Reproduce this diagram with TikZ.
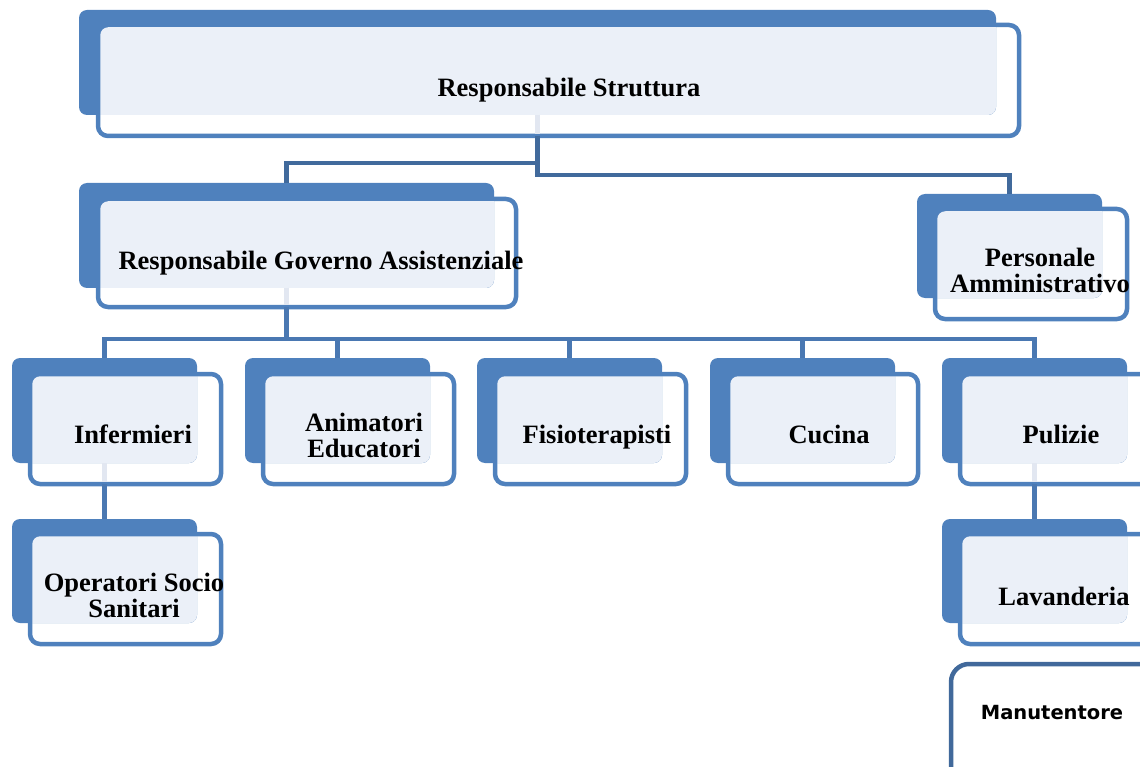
\documentclass[tikz,border=0pt]{standalone}
\usepackage{fontspec}
\setmainfont{Liberation Serif}
\newfontfamily\mansans{DejaVu Sans}
\usetikzlibrary{fit}
\definecolor{boxblue}{HTML}{4F81BD}
\definecolor{lightfill}{HTML}{EBF0F8}
\definecolor{conndark}{HTML}{416A9C}
\definecolor{connblue}{HTML}{4A78B2}
\definecolor{stubcol}{HTML}{E2E7F1}
\definecolor{manborder}{HTML}{41699B}
\tikzset{
  frontbox/.style={draw=boxblue, fill=white, line width=4.5pt, rounded corners=10pt, inner sep=0pt, outer sep=0pt},
  backbox/.style={fill=boxblue, rounded corners=8pt, inner sep=0pt, outer sep=0pt},
  manbox/.style={draw=manborder, fill=white, line width=4.5pt, rounded corners=18pt, inner sep=0pt, outer sep=0pt},
  lbl/.style={font=\bfseries\fontsize{26.5}{26}\selectfont, align=center, inner sep=0pt},
  manlbl/.style={font=\mansans\bfseries\fontsize{19.5}{22}\selectfont, inner sep=0pt},
  conn/.style={draw=connblue, line width=4.5pt},
  connd/.style={draw=conndark, line width=4.5pt},
  stub/.style={draw=stubcol, line width=4.5pt}
}
\newcommand\orgunit[9]{%
  \node[frontbox, fit={(#6,#7)(#8,#9)}] (#1F) {};
  \node[backbox, fit={(#2,#3)(#4,#5)}] (#1B) {};
  \begin{scope}
    \clip[rounded corners=8pt] (#1B.south west) rectangle (#1B.north east);
    \fill[lightfill, rounded corners=8pt] ([xshift=2.25pt,yshift=-2.25pt]#1F.north west) rectangle ([xshift=-2.25pt,yshift=2.25pt]#1F.south east);
  \end{scope}
}
\begin{document}
\begin{tikzpicture}[x=1pt, y=-1pt]
\useasboundingbox (0,0) rectangle (1140,767);
\clip (0,0) rectangle (1140,767);
% boxes
\orgunit{rs}{79}{10}{996}{115}{98}{25}{1019}{136}
\orgunit{rga}{79}{183}{494}{288}{98}{199}{516}{307}
\orgunit{pa}{917}{194}{1102}{298}{935}{209}{1127}{319}
\orgunit{inf}{12}{358}{197}{463}{30}{374}{221}{484}
\orgunit{ani}{245}{358}{430}{463}{263}{374}{454}{484}
\orgunit{fis}{477}{358}{662}{463}{495}{374}{686}{484}
\orgunit{cuc}{710}{358}{895}{463}{728}{374}{918}{484}
\orgunit{pul}{942}{358}{1127}{463}{960}{374}{1151}{484}
\orgunit{oss}{12}{519}{197}{623}{30}{534}{221}{644}
\orgunit{lav}{942}{519}{1127}{623}{960}{534}{1151}{644}
\node[manbox, fit={(951,664)(1170,800)}] (manF) {};
% stubs inside front boxes
\foreach \n in {rs,rga,inf,pul}{
  \draw[stub] (\n B.south) -- ([yshift=2.25pt]\n B.south |- \n F.south);
}
% connectors
\draw[connd] (rsB.south |- rsF.south) -- ++(0,27) -| (rgaB.north);
\draw[connd] (rsB.south |- rsF.south) -- ++(0,39) -| (paB.north);
\foreach \c in {inf,ani,fis,cuc,pul}{
  \draw[conn] (rgaB.south |- rgaF.south) -- ++(0,32) -| (\c B.north);
}
\draw[conn] (infB.south |- infF.south) -- (ossB.north);
\draw[conn] (pulB.south |- pulF.south) -- (lavB.north);
% labels
\node[lbl] (rsT) at (569,90) {Responsabile Struttura};
\node[lbl] (rgaT) at (321,263) {Responsabile Governo Assistenziale};
\node[lbl] (paT) at (1040,270) {Personale\\Amministrativo};
\node[lbl] (infT) at (133,434) {Infermieri};
\node[lbl] (aniT) at (364,435) {Animatori\\Educatori};
\node[lbl] (fisT) at (597,437) {Fisioterapisti};
\node[lbl] (cucT) at (829,434) {Cucina};
\node[lbl] (pulT) at (1061,434) {Pulizie};
\node[lbl] (ossT) at (134,595) {Operatori Socio\\Sanitari};
\node[lbl] (lavT) at (1064,596) {Lavanderia};
\node[manlbl] (manT) at (1052,713) {Manutentore};
\end{tikzpicture}
\end{document}
